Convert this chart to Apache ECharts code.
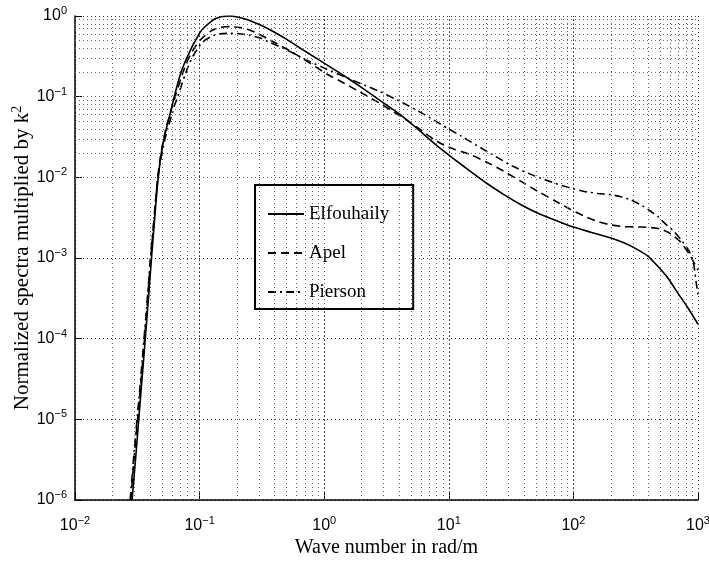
<!DOCTYPE html>
<html><head><meta charset="utf-8">
<script src="https://cdn.jsdelivr.net/npm/echarts@6/dist/echarts.min.js"></script>
<style>html,body{margin:0;padding:0;background:#fff}#c{width:709px;height:569px}</style>
</head><body><div id="c"></div>
<script>
// ---- data (wave number k in rad/m, normalized spectra * k^2) ----
var elfK = [0.0287,0.0309,0.0333,0.0355,0.0377,0.0398,0.0414,0.0431,0.0448,0.0465,0.0482,0.0501,0.0525,0.0550,0.0570,0.0593,0.0617,0.0656,0.0698,0.0741,0.0791,0.0841,0.0891,0.0955,0.101,0.111,0.122,0.133,0.147,0.161,0.176,0.200,0.240,0.295,0.370,0.501,0.708,1.05,1.41,1.95,2.82,4.10,5.62,7.59,10.7,15.0,20.4,27.7,38.0,51.4,70.8,95.3,138,200,257,327,398,474,575,687,832,1000];
var elfV = [1e-6,3.80e-6,1.62e-5,5.37e-5,1.74e-4,5.13e-4,1.15e-3,2.45e-3,5.25e-3,1.0e-2,1.58e-2,2.34e-2,3.31e-2,4.47e-2,5.50e-2,7.08e-2,9.12e-2,0.132,0.186,0.240,0.302,0.372,0.447,0.537,0.631,0.741,0.841,0.923,0.973,0.995,1.0,0.973,0.902,0.794,0.671,0.513,0.363,0.248,0.186,0.133,0.0891,0.0596,0.0398,0.0265,0.0174,0.0118,8.32e-3,6.10e-3,4.57e-3,3.61e-3,2.95e-3,2.47e-3,2.09e-3,1.77e-3,1.53e-3,1.27e-3,1.05e-3,7.94e-4,5.62e-4,3.70e-4,2.40e-4,1.51e-4];
var apelK = [0.0280,0.0305,0.0327,0.0351,0.0372,0.0391,0.0408,0.0427,0.0444,0.0460,0.0478,0.0498,0.0520,0.0543,0.0570,0.0600,0.0631,0.0676,0.0724,0.0776,0.0839,0.0912,0.101,0.111,0.122,0.133,0.147,0.161,0.176,0.204,0.240,0.295,0.370,0.501,0.708,1.05,1.41,1.95,2.82,3.62,4.79,5.93,7.59,9.12,11.2,15.0,20.0,28.2,38.0,51.4,70.8,95.3,126,158,200,251,316,398,501,603,724,851,1000];
var apelV = [1e-6,5.01e-6,1.62e-5,5.62e-5,1.74e-4,4.79e-4,1.15e-3,2.45e-3,5.25e-3,9.77e-3,1.55e-2,2.29e-2,3.24e-2,4.37e-2,5.62e-2,7.41e-2,9.55e-2,0.135,0.186,0.251,0.324,0.407,0.501,0.575,0.646,0.692,0.721,0.735,0.738,0.724,0.692,0.603,0.501,0.389,0.282,0.191,0.150,0.1135,0.0822,0.0646,0.0490,0.0389,0.0295,0.0251,0.0221,0.0191,0.0155,0.0117,8.91e-3,6.76e-3,5.13e-3,3.98e-3,3.24e-3,2.82e-3,2.57e-3,2.45e-3,2.43e-3,2.40e-3,2.29e-3,2.00e-3,1.58e-3,1.12e-3,7.08e-4];
var piersonK = [0.0277,0.0302,0.0324,0.0347,0.0369,0.0389,0.0406,0.0425,0.0444,0.0462,0.0482,0.0505,0.0528,0.0556,0.0592,0.0625,0.0661,0.0708,0.0759,0.0813,0.0881,0.0951,0.102,0.111,0.122,0.133,0.151,0.176,0.209,0.255,0.316,0.370,0.501,0.708,1.05,1.41,1.95,2.82,3.62,4.79,5.93,7.59,9.73,12.6,15.0,22.4,33.3,49.0,70.0,93.3,122,158,200,240,288,347,417,479,537,631,729,813,879,929,966,1000];
var piersonV = [1e-6,5.01e-6,1.62e-5,5.62e-5,1.74e-4,4.79e-4,1.15e-3,2.45e-3,5.25e-3,9.55e-3,1.48e-2,2.19e-2,3.02e-2,4.07e-2,5.62e-2,7.59e-2,9.55e-2,0.132,0.182,0.240,0.316,0.380,0.447,0.505,0.550,0.582,0.604,0.611,0.603,0.575,0.525,0.468,0.380,0.288,0.219,0.180,0.146,0.115,0.0955,0.0767,0.0638,0.0513,0.0407,0.0324,0.0275,0.0191,0.0135,0.0104,8.51e-3,7.41e-3,6.68e-3,6.31e-3,6.10e-3,5.75e-3,5.28e-3,4.57e-3,3.80e-3,3.24e-3,2.72e-3,2.19e-3,1.70e-3,1.35e-3,1.10e-3,7.94e-4,5.01e-4,3.55e-4];
var seriesNames = ['Elfouhaily','Apel','Pierson'];
var xDecades = [0.01,0.1,1,10,100,1000];
var yDecades = [1e-6,1e-5,1e-4,1e-3,1e-2,1e-1,1];
var minorMult = [2,3,4,5,6,7,8,9];
var xTitle = 'Wave number in rad/m';
var yTitle = 'Normalized spectra multiplied by k{s|2}';

function pairs(k, v){ return k.map(function(x,i){ return [x, v[i]]; }); }
var minorX = [], minorY = [];
xDecades.slice(0,-1).forEach(function(d){ minorMult.forEach(function(m){ minorX.push(d*m); }); });
yDecades.slice(0,-1).forEach(function(d){ minorMult.forEach(function(m){ minorY.push(d*m); }); });
var gridMarks = [];
minorX.concat(xDecades.slice(1,-1)).forEach(function(x){ gridMarks.push({xAxis:x}); });
minorY.concat(yDecades.slice(1,-1)).forEach(function(y){ gridMarks.push({yAxis:y}); });

function expLabel(v){
  var e = Math.round(Math.log(v)/Math.LN10);
  return '{b|10}{s|' + (e<0 ? '\u2212'+(-e) : e) + '}';
}
var tickRich = { b:{fontFamily:'Liberation Sans',fontSize:16,color:'#000'}, s:{fontFamily:'Liberation Sans',fontSize:11,color:'#000',padding:[0,0,10,0]} };
var chart = echarts.init(document.getElementById('c'));
function mk(name, data, type, z){
  return {type:'line',name:name,data:data,showSymbol:false,symbol:'none',smooth:0.15,z:z,
    itemStyle:{color:'#000'},lineStyle:{color:'#000',width:1.6,type:type}};
}
var s0 = mk('Elfouhaily', pairs(elfK,elfV), 'solid', 5);
s0.markLine = {silent:true,symbol:'none',label:{show:false},animation:false,lineStyle:{color:'#666',type:[1,3],width:1},data:gridMarks};
chart.setOption({
  animation:false,
  backgroundColor:'#fff',
  grid:{left:75,right:11,top:16,bottom:69,containLabel:false,outerBoundsMode:'none'},
  legend:{
    data:seriesNames, orient:'vertical', left:255, top:185,
    backgroundColor:'#fff', borderColor:'#000', borderWidth:2,
    padding:[19,24,7,12], itemWidth:36, itemHeight:14, itemGap:19,
    itemStyle:{opacity:0},
    textStyle:{fontFamily:'Liberation Serif',fontSize:19,color:'#000',lineHeight:20}
  },
  xAxis:{type:'log',logBase:10,min:0.01,max:1000,
    name:xTitle,nameLocation:'middle',nameGap:38,nameMoveOverlap:false,
    nameTextStyle:{fontFamily:'Liberation Serif',fontSize:20,color:'#000'},
    axisLine:{lineStyle:{color:'#000',width:1.5}},
    axisTick:{inside:true,length:7,lineStyle:{color:'#000'}},
    axisLabel:{formatter:expLabel,rich:tickRich,margin:15},
    splitLine:{show:true,lineStyle:{color:'#333',type:[1,3],width:1}}
  },
  yAxis:{type:'log',logBase:10,min:1e-6,max:1,
    name:yTitle,nameLocation:'middle',nameGap:41,nameRotate:90,nameMoveOverlap:false,
    nameTextStyle:{fontFamily:'Liberation Serif',fontSize:21,color:'#000',rich:{s:{fontFamily:'Liberation Serif',fontSize:14,color:'#000',padding:[0,0,10,0]}}},
    axisLine:{lineStyle:{color:'#000',width:1.5}},
    axisTick:{inside:true,length:7,lineStyle:{color:'#000'}},
    axisLabel:{formatter:expLabel,rich:tickRich,margin:8},
    splitLine:{show:true,lineStyle:{color:'#333',type:[1,3],width:1}}
  },
  series:[
    s0,
    mk('Apel', pairs(apelK,apelV), [8,5], 4),
    mk('Pierson', pairs(piersonK,piersonV), [8,4,2,4], 4)
  ]
});
</script></body></html>
